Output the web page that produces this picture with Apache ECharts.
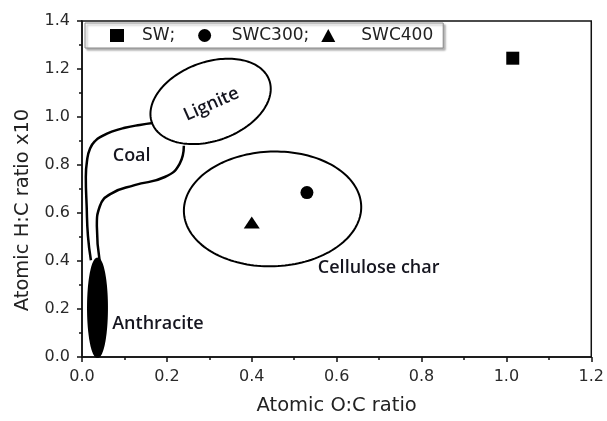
<!DOCTYPE html>
<html>
<head>
<meta charset="utf-8">
<script src="https://cdn.jsdelivr.net/npm/echarts@6/dist/echarts.min.js"></script>
<style>
  html, body { margin: 0; padding: 0; background: #fff; }
  #chart { width: 607px; height: 421px; }
</style>
</head>
<body>
<div id="chart"></div>
<script>
// Samples: atomic O:C ratio and H:C ratio (x10)
const sampleNames = ['SW', 'SWC300', 'SWC400'];
const sampleSymbols = ['rect', 'circle', 'triangle'];
const sampleOC = [1.015, 0.53, 0.40];
const sampleHC = [1.245, 0.685, 0.56];

// Axis tick labels
const xTickLabels = ['0.0', '0.2', '0.4', '0.6', '0.8', '1.0', '1.2'];
const yTickLabels = ['0.0', '0.2', '0.4', '0.6', '0.8', '1.0', '1.2', '1.4'];

// Elliptical zones: centre (O:C, H:C), semi-axes (O:C units, H:C units), tilt in degrees
const zoneNames = ['Lignite', 'Cellulose char', 'Anthracite'];
const zoneCentreOC = [0.303, 0.449, 0.0365];
const zoneCentreHC = [1.065, 0.617, 0.205];
const zoneSemiOC = [0.147, 0.209, 0.0223];
const zoneSemiHC = [0.164, 0.239, 0.205];
const zoneTilt = [20, 2, 0];
const zoneFilled = [0, 0, 1];

// Coal band: outer and inner boundaries
const coalOuterOC = [0.021, 0.014, 0.011, 0.009, 0.012, 0.019, 0.031, 0.047, 0.070, 0.101, 0.136, 0.167];
const coalOuterHC = [0.403, 0.505, 0.628, 0.750, 0.820, 0.869, 0.900, 0.920, 0.939, 0.955, 0.967, 0.975];
const coalInnerOC = [0.042, 0.035, 0.042, 0.070, 0.124, 0.195, 0.230, 0.240];
const coalInnerHC = [0.395, 0.546, 0.628, 0.682, 0.716, 0.750, 0.805, 0.880];

// Zone captions
const captionTexts = ['Coal', 'Lignite', 'Anthracite', 'Cellulose char'];
const captionOC = [0.117, 0.305, 0.179, 0.699];
const captionHC = [0.839, 1.053, 0.136, 0.370];
const captionTilt = [0, 24, 0, 0];

const axisFont = 'DejaVu Sans';
const captionFont = 'Open Sans';
const ink = '#000';

const chart = echarts.init(document.getElementById('chart'), null, { renderer: 'canvas' });

const zoneData = zoneNames.map((n, i) => [zoneCentreOC[i], zoneCentreHC[i], zoneSemiOC[i], zoneSemiHC[i], zoneTilt[i], zoneFilled[i]]);
const captionData = captionTexts.map((t, i) => [captionOC[i], captionHC[i], captionTilt[i], i]);

const scatterSeries = sampleNames.map((name, i) => ({
  type: 'scatter',
  name: name,
  symbol: sampleSymbols[i],
  symbolSize: sampleSymbols[i] === 'triangle' ? [16, 12] : 13,
  itemStyle: { color: ink, opacity: 1 },
  data: [[sampleOC[i], sampleHC[i]]],
  z: 5
}));

// legend entries: spacing between each marker and its text
const legendTextPad = [[0, 0, 0, 13], [0, 0, 0, 15], [0, 0, 0, 21]];

const option = {
  animation: false,
  backgroundColor: '#fff',
  grid: {
    left: 82, right: 14, top: 21, bottom: 58,
    show: true, borderColor: '#111', borderWidth: 1.5, backgroundColor: 'transparent'
  },
  legend: {
    data: sampleNames.map((n, i) => ({
      name: n,
      textStyle: { padding: legendTextPad[i] }
    })),
    left: 85, top: 23,
    itemWidth: 14, itemHeight: 13, itemGap: 12,
    padding: [4, 10, 4, 25],
    backgroundColor: '#fff',
    borderColor: '#8a8a8a', borderWidth: 1,
    shadowColor: 'rgba(0,0,0,0.3)', shadowBlur: 2, shadowOffsetX: 2, shadowOffsetY: 2,
    itemStyle: { opacity: 1 },
    textStyle: { fontFamily: axisFont, fontSize: 17, color: '#222' },
    formatter: n => (n === 'SW' ? 'SW;\u00a0\u00a0' : (n === 'SWC400' ? n : n + ';'))
  },
  xAxis: {
    type: 'value', min: 0, max: 1.2, interval: 0.2,
    name: 'Atomic O:C ratio', nameLocation: 'middle', nameGap: 39,
    nameTextStyle: { fontFamily: axisFont, fontSize: 19.5, color: '#222' },
    axisLine: { lineStyle: { color: '#111', width: 1.5 } },
    axisTick: { inside: false, length: 5, lineStyle: { color: '#111', width: 1.5 } },
    minorTick: { show: true, splitNumber: 2, length: 3, lineStyle: { color: '#111', width: 1.5 } },
    splitLine: { show: false },
    axisLabel: {
      margin: 12, fontFamily: axisFont, fontSize: 16, color: '#2a2a2a',
      formatter: v => xTickLabels[Math.round(v / 0.2)]
    }
  },
  yAxis: {
    type: 'value', min: 0, max: 1.4, interval: 0.2,
    name: 'Atomic H:C ratio x10', nameLocation: 'middle', nameGap: 49,
    nameTextStyle: { fontFamily: axisFont, fontSize: 19.5, color: '#222', padding: [0, 42, 0, 0] },
    axisLine: { lineStyle: { color: '#111', width: 1.5 } },
    axisTick: { inside: false, length: 5, lineStyle: { color: '#111', width: 1.5 } },
    minorTick: { show: true, splitNumber: 2, length: 3, lineStyle: { color: '#111', width: 1.5 } },
    splitLine: { show: false },
    axisLabel: {
      margin: 12, fontFamily: axisFont, fontSize: 16, color: '#2a2a2a',
      formatter: v => yTickLabels[Math.round(v / 0.2)]
    }
  },
  series: [
    {
      type: 'custom',
      name: 'zones',
      silent: true,
      data: zoneData,
      encode: { x: 0, y: 1 },
      z: 2,
      renderItem: function (params, api) {
        const c = api.coord([api.value(0), api.value(1)]);
        const a = api.size([api.value(2), 0])[0];
        const b = api.size([0, api.value(3)])[1];
        const t = api.value(4) * Math.PI / 180;
        const filled = api.value(5) === 1;
        const pts = [];
        const steps = 160;
        for (let k = 0; k < steps; k++) {
          const u = (k / steps) * 2 * Math.PI;
          const ex = a * Math.cos(u);
          const ey = b * Math.sin(u);
          pts.push([
            c[0] + ex * Math.cos(t) - ey * Math.sin(t),
            c[1] - (ex * Math.sin(t) + ey * Math.cos(t))
          ]);
        }
        return {
          type: 'polygon',
          shape: { points: pts },
          style: { fill: filled ? ink : 'none', stroke: ink, lineWidth: 2 }
        };
      }
    },
    {
      type: 'line', name: 'coal-outer', silent: true,
      data: coalOuterOC.map((x, i) => [x, coalOuterHC[i]]),
      smooth: 0.5, showSymbol: false, symbol: 'none',
      lineStyle: { color: ink, width: 2.5 }, z: 2
    },
    {
      type: 'line', name: 'coal-inner', silent: true,
      data: coalInnerOC.map((x, i) => [x, coalInnerHC[i]]),
      smooth: 0.5, showSymbol: false, symbol: 'none',
      lineStyle: { color: ink, width: 2.5 }, z: 2
    },
    {
      type: 'custom',
      name: 'captions',
      silent: true,
      data: captionData,
      encode: { x: 0, y: 1 },
      z: 3,
      renderItem: function (params, api) {
        const p = api.coord([api.value(0), api.value(1)]);
        return {
          type: 'text',
          x: p[0], y: p[1],
          rotation: api.value(2) * Math.PI / 180,
          style: {
            text: captionTexts[api.value(3)],
            fill: '#15151f',
            fontFamily: captionFont,
            fontWeight: 600,
            fontSize: 18,
            align: 'center',
            verticalAlign: 'middle'
          }
        };
      }
    }
  ].concat(scatterSeries)
};

chart.setOption(option);
</script>
</body>
</html>
